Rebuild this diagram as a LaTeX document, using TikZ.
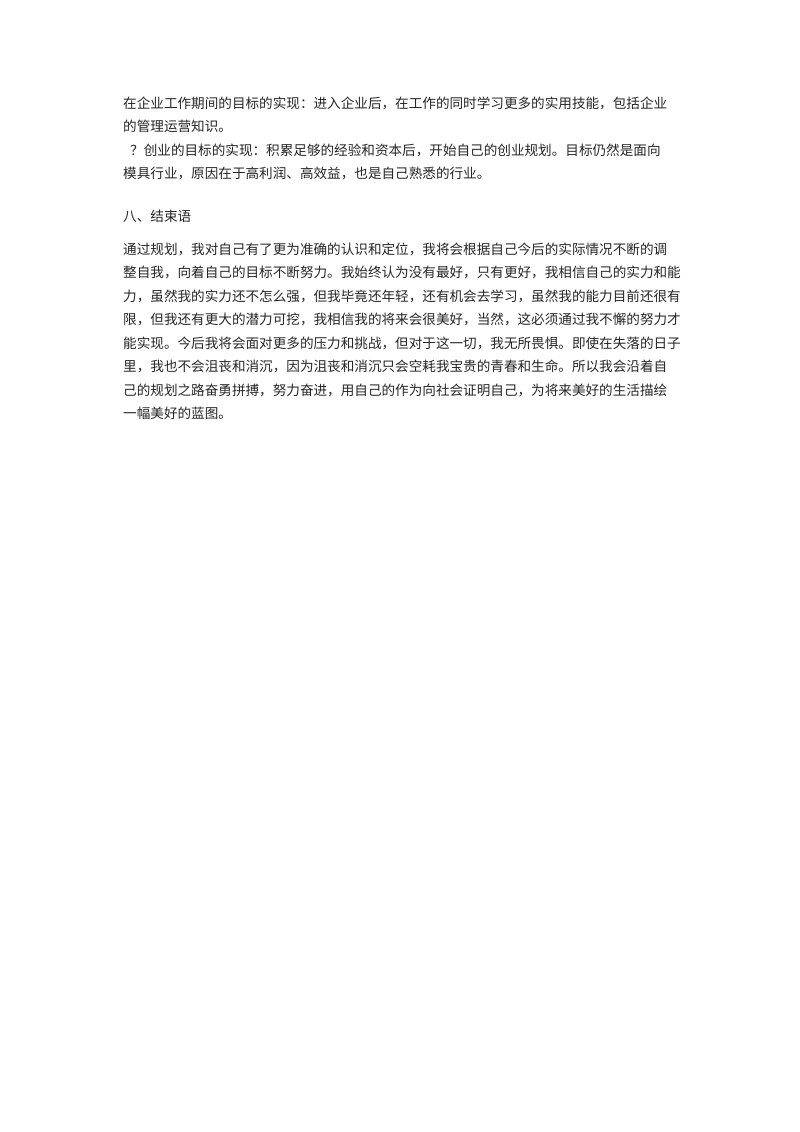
\documentclass[tikz,border=0pt]{standalone}
\usepackage{fontspec}
\newfontfamily\cjk{Noto Sans CJK SC}
\begin{document}
\begin{tikzpicture}[x=1pt,y=-1pt,txt/.style={anchor=west,inner sep=0pt,font=\cjk\fontsize{13.6}{14}\selectfont,text=black!85}]
\useasboundingbox[fill=white] (0,0) rectangle (800,1132);
\node[txt] (l1) at (123,103) {在企业工作期间的目标的实现：进入企业后，在工作的同时学习更多的实用技能，包括企业};
\node[txt] (l2) at (123,126) {的管理运营知识。};
\node[txt] (l3) at (130,150) {？创业的目标的实现：积累足够的经验和资本后，开始自己的创业规划。目标仍然是面向};
\node[txt] (l4) at (123,173) {模具行业，原因在于高利润、高效益，也是自己熟悉的行业。};
\node[txt] (h) at (123,216) {八、结束语};
\node[txt] (p1) at (123,249) {通过规划，我对自己有了更为准确的认识和定位，我将会根据自己今后的实际情况不断的调};
\node[txt] (p2) at (123,272) {整自我，向着自己的目标不断努力。我始终认为没有最好，只有更好，我相信自己的实力和能};
\node[txt] (p3) at (123,296) {力，虽然我的实力还不怎么强，但我毕竟还年轻，还有机会去学习，虽然我的能力目前还很有};
\node[txt] (p4) at (123,319) {限，但我还有更大的潜力可挖，我相信我的将来会很美好，当然，这必须通过我不懈的努力才};
\node[txt] (p5) at (123,343) {能实现。今后我将会面对更多的压力和挑战，但对于这一切，我无所畏惧。即使在失落的日子};
\node[txt] (p6) at (123,366) {里，我也不会沮丧和消沉，因为沮丧和消沉只会空耗我宝贵的青春和生命。所以我会沿着自};
\node[txt] (p7) at (123,390) {己的规划之路奋勇拼搏，努力奋进，用自己的作为向社会证明自己，为将来美好的生活描绘};
\node[txt] (p8) at (123,413) {一幅美好的蓝图。};
\end{tikzpicture}
\end{document}
